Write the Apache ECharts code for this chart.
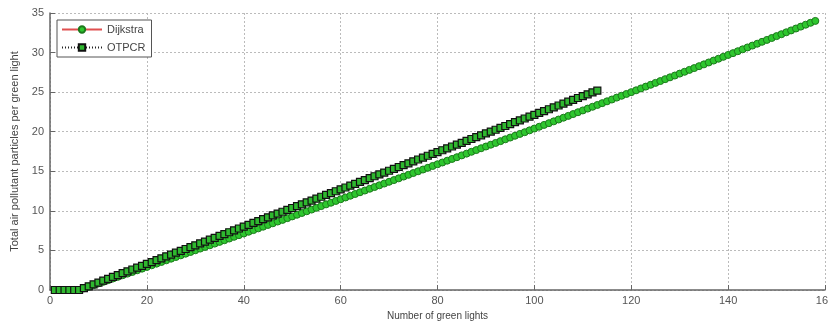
<!DOCTYPE html>
<html><head><meta charset="utf-8">
<script src="https://cdn.jsdelivr.net/npm/echarts@6/dist/echarts.min.js"></script>
<style>html,body{margin:0;padding:0;background:#fff}#c{width:828px;height:328px}</style>
</head><body><div id="c"></div>
<script>
const xStart = 1;
const xTicks = [0, 20, 40, 60, 80, 100, 120, 140, 160];
const yTicks = [0, 5, 10, 15, 20, 25, 30, 35];
const seriesNames = ['Dijkstra', 'OTPCR'];
const dijkstraY = [0,0,0,0,0,0,
0.21,0.41,0.62,0.83,1.03,1.24,1.45,1.66,1.87,2.07,
2.28,2.49,2.70,2.91,3.12,3.33,3.54,3.75,3.96,4.17,
4.38,4.59,4.80,5.02,5.23,5.44,5.65,5.86,6.08,6.29,
6.50,6.72,6.93,7.14,7.36,7.57,7.79,8.00,8.22,8.43,
8.65,8.86,9.08,9.30,9.51,9.73,9.95,10.16,10.38,10.60,
10.82,11.03,11.25,11.47,11.69,11.91,12.13,12.35,12.57,12.79,
13.01,13.23,13.45,13.67,13.89,14.11,14.33,14.55,14.78,15.00,
15.22,15.44,15.67,15.89,16.11,16.34,16.56,16.78,17.01,17.23,
17.46,17.68,17.91,18.13,18.36,18.58,18.81,19.04,19.26,19.49,
19.72,19.94,20.17,20.40,20.63,20.86,21.08,21.31,21.54,21.77,
22.00,22.23,22.46,22.69,22.92,23.15,23.38,23.61,23.84,24.07,
24.31,24.54,24.77,25.00,25.23,25.47,25.70,25.93,26.17,26.40,
26.64,26.87,27.10,27.34,27.57,27.81,28.04,28.28,28.51,28.75,
28.99,29.22,29.46,29.70,29.93,30.17,30.41,30.65,30.88,31.12,
31.36,31.60,31.84,32.08,32.32,32.56,32.80,33.04,33.28,33.52,
33.76,34.00];
const otpcrY = [0,0,0,0,0,0,
0.24,0.47,0.71,0.94,1.18,1.41,1.65,1.88,2.12,2.36,
2.59,2.83,3.06,3.30,3.53,3.77,4.00,4.24,4.47,4.71,
4.95,5.18,5.42,5.65,5.89,6.12,6.36,6.59,6.83,7.07,
7.30,7.54,7.77,8.01,8.24,8.48,8.71,8.95,9.18,9.42,
9.66,9.89,10.13,10.36,10.60,10.83,11.07,11.30,11.54,11.78,
12.01,12.25,12.48,12.72,12.95,13.19,13.42,13.66,13.89,14.13,
14.37,14.60,14.84,15.07,15.31,15.54,15.78,16.01,16.25,16.49,
16.72,16.96,17.19,17.43,17.66,17.90,18.13,18.37,18.60,18.84,
19.08,19.31,19.55,19.78,20.02,20.25,20.49,20.72,20.96,21.20,
21.43,21.67,21.90,22.14,22.37,22.61,22.84,23.08,23.31,23.55,
23.79,24.02,24.26,24.49,24.73,24.96,25.20];

const toPairs = arr => arr.map((v, i) => [i + xStart, v]);
const font = 'Liberation Sans, Arial, sans-serif';
const chart = echarts.init(document.getElementById('c'), null, {renderer: 'canvas'});
chart.setOption({
  animation: false,
  backgroundColor: '#fff',
  grid: {left: 50, right: 3, top: 13, bottom: 38, containLabel: false, outerBoundsMode: 'none'},
  legend: {
    left: 57, top: 20, orient: 'vertical',
    itemWidth: 40, itemHeight: 8, itemGap: 7,
    padding: [4, 6, 4, 4],
    borderColor: '#555', borderWidth: 1, backgroundColor: '#fff',
    textStyle: {fontFamily: font, fontSize: 11, color: '#444'},
    data: seriesNames
  },
  xAxis: {
    type: 'value', min: xTicks[0], max: xTicks[xTicks.length - 1], interval: 20,
    name: 'Number of green lights', nameLocation: 'middle', nameGap: 21,
    nameTextStyle: {fontFamily: font, fontSize: 10, color: '#444'},
    axisLine: {onZero: false, lineStyle: {color: '#666', width: 1.5}},
    axisTick: {inside: true, length: 5, lineStyle: {color: '#666'}},
    axisLabel: {fontFamily: font, fontSize: 11, color: '#555', margin: 5},
    splitLine: {show: true, lineStyle: {color: '#bbb', type: [2, 2]}}
  },
  yAxis: {
    type: 'value', min: yTicks[0], max: yTicks[yTicks.length - 1], interval: 5,
    name: 'Total air pollutant particles per green light', nameLocation: 'middle', nameGap: 28,
    nameTextStyle: {fontFamily: font, fontSize: 11, color: '#444'},
    axisLine: {show: true, onZero: false, lineStyle: {color: '#666', width: 1.5}},
    axisTick: {show: true, inside: true, length: 5, lineStyle: {color: '#666'}},
    axisLabel: {fontFamily: font, fontSize: 11, color: '#555', margin: 6},
    splitLine: {show: true, lineStyle: {color: '#bbb', type: [2, 2]}}
  },
  series: [
    {
      name: seriesNames[0], type: 'line', data: toPairs(dijkstraY),
      symbol: 'circle', symbolSize: 7, showSymbol: true,
      lineStyle: {color: '#e05050', width: 1},
      itemStyle: {color: '#2ec72e', borderColor: '#1c7a1c', borderWidth: 1},
      z: 2
    },
    {
      name: seriesNames[1], type: 'line', data: toPairs(otpcrY),
      symbol: 'rect', symbolSize: 7, showSymbol: true,
      lineStyle: {color: '#222', width: 1, type: [1, 2]},
      itemStyle: {color: '#2fb82f', borderColor: '#111', borderWidth: 1.2},
      z: 3
    }
  ]
});
</script></body></html>
